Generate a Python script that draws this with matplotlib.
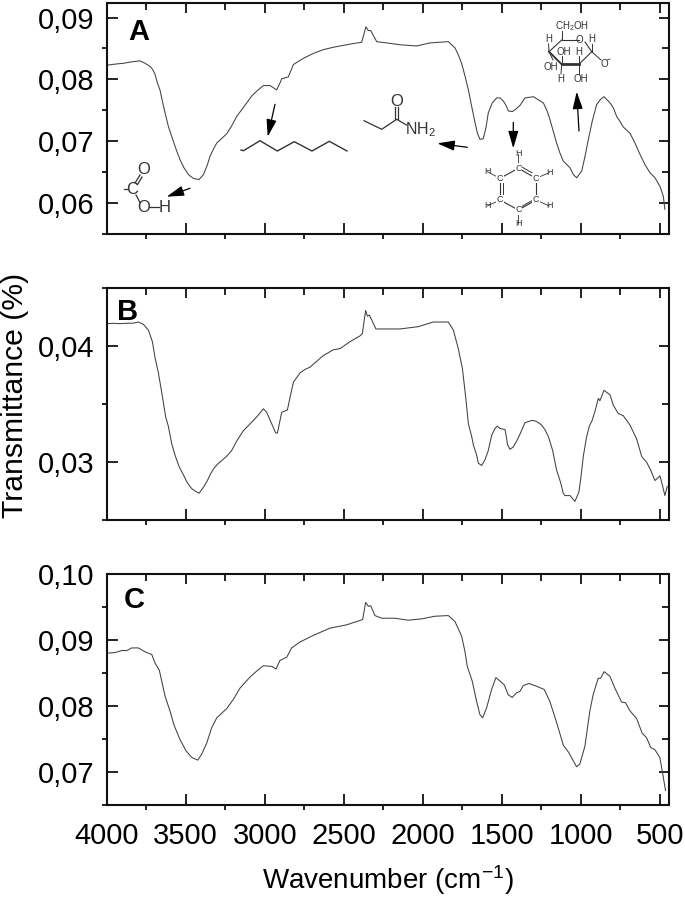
import matplotlib
matplotlib.use('Agg')
import matplotlib.pyplot as plt
from matplotlib.ticker import MultipleLocator, FuncFormatter, NullFormatter

plt.rcParams['font.family'] = ['Liberation Sans', 'DejaVu Sans']
plt.rcParams['mathtext.default'] = 'regular'

# values
wn_a = [4000,3968,3937,3894,3852,3821,3789,3757,3726,3709,3694,3679,3663,3648,3631,3610,3589,3561,3536,3511,
        3483,3452,3416,3388,3363,3346,3321,3304,3241,3209,3178,3146,3114,3083,3051,3009,2967,2925,2904,2893,
        2851,2819,2788,2756,2693,2630,2566,2503,2440,2387,2360,2345,2330,2292,2229,2145,2039,1955,1839,1797,
        1776,1755,1733,1712,1691,1670,1655,1639,1618,1601,1586,1561,1533,1512,1491,1474,1459,1434,1411,1386,
        1354,1301,1238,1217,1196,1175,1154,1133,1112,1069,1048,1027,995,974,953,928,901,875,854,816,
        795,774,753,732,690,658,627,595,563,532,500,479,469]
t_a = [.0823,.0824,.0825,.0826,.0828,.0829,.0830,.0826,.0821,.0816,.0808,.0794,.0783,.0765,.0746,.0724,.0708,.0687,.0670,.0657,
       .0646,.0640,.0638,.0646,.0662,.0676,.0689,.0697,.0712,.0725,.0740,.0751,.0762,.0773,.0781,.0790,.0790,.0783,.0794,.0801,
       .0804,.0824,.0829,.0834,.0842,.0848,.0852,.0855,.0858,.0860,.0885,.0879,.0879,.0861,.0859,.0856,.0854,.0859,.0861,.0851,
       .0840,.0826,.0805,.0783,.0756,.0730,.0713,.0703,.0704,.0722,.0746,.0762,.0770,.0770,.0765,.0758,.0749,.0748,.0752,.0758,
       .0770,.0772,.0762,.0751,.0735,.0716,.0697,.0681,.0668,.0657,.0646,.0641,.0652,.0676,.0703,.0733,.0759,.0768,.0772,.0762,
       .0754,.0740,.0732,.0723,.0713,.0697,.0679,.0662,.0649,.0641,.0627,.0611,.0590]

wn_b = [4000,3958,3916,3873,3831,3800,3768,3736,3711,3694,3673,3658,3641,3627,3610,3589,3568,3542,3515,3490,
        3462,3441,3416,3384,3363,3346,3325,3300,3241,3209,3178,3136,3093,3051,3009,2988,2956,2931,2920,2893,
        2857,2840,2819,2777,2746,2714,2672,2630,2566,2524,2461,2398,2383,2362,2351,2339,2324,2297,2229,2145,
        2029,1934,1839,1807,1776,1750,1729,1712,1691,1681,1660,1649,1628,1607,1586,1565,1544,1529,1512,1480,
        1464,1449,1428,1407,1386,1354,1333,1306,1280,1249,1228,1206,1179,1154,1128,1112,1101,1069,1038,1013,
        1000,985,964,947,929,911,890,880,854,816,795,764,732,690,648,616,606,585,559,532,
        500,483,469,454]
t_b = [.04196,.04199,.04196,.04199,.0420,.0421,.0419,.0414,.0404,.0390,.0377,.0365,.0351,.0339,.0331,.0316,.0306,.0296,.0289,.0282,
       .0277,.0275,.0273,.0279,.0284,.0289,.0294,.0298,.0305,.0310,.0318,.0327,.0333,.0339,.0346,.0343,.0333,.0325,.0325,.0343,
       .0345,.0356,.0369,.0377,.0380,.0382,.0387,.0392,.0397,.0398,.0404,.0409,.0411,.0431,.0426,.0427,.0423,.0415,.0415,.0415,
       .0417,.0421,.0421,.0414,.0398,.0381,.0356,.0333,.0322,.0315,.0306,.0299,.0297,.0302,.0310,.0323,.0329,.0331,.0329,.0328,
       .0315,.0311,.0313,.0318,.0324,.0334,.0335,.0336,.0335,.0332,.0328,.0322,.0310,.0293,.0282,.0273,.0271,.0271,.0266,.0274,
       .0287,.0305,.0322,.0331,.0336,.0344,.0355,.0353,.0362,.0358,.0349,.0342,.0340,.0332,.0320,.0305,.0303,.0300,.0293,.0284,
       .0288,.0279,.0271,.0279]

wn_c = [4000,3947,3905,3873,3842,3800,3757,3715,3694,3667,3652,3631,3599,3574,3536,3498,3462,3424,3399,3367,
        3336,3304,3241,3199,3157,3093,3041,3009,2956,2929,2904,2861,2830,2777,2693,2587,2482,2381,2362,2345,
        2330,2303,2261,2208,2177,2092,2008,1924,1839,1797,1755,1734,1719,1688,1660,1639,1622,1597,1565,1538,
        1513,1485,1460,1435,1407,1386,1365,1329,1281,1232,1197,1154,1112,1076,1028,1007,975,944,923,891,
        876,853,817,785,743,718,691,648,613,585,558,533,501,484,465]
t_c = [.0880,.0881,.0884,.0884,.0888,.0888,.0882,.0878,.0865,.0854,.0838,.0815,.0792,.0771,.0749,.0732,.0722,.0718,.0727,.0744,
       .0767,.0782,.0796,.0810,.0827,.0844,.0855,.0861,.0860,.0856,.0869,.0874,.0888,.0897,.0907,.0918,.0923,.0931,.0957,.0951,
       .0952,.0937,.0933,.0933,.0933,.0930,.0932,.0936,.0937,.0928,.0906,.0883,.0860,.0838,.0807,.0787,.0782,.0797,.0825,.0843,
       .0838,.0832,.0817,.0813,.0820,.0822,.0831,.0834,.0830,.0825,.0807,.0775,.0741,.0729,.0708,.0712,.0739,.0792,.0817,.0842,
       .0842,.0852,.0845,.0827,.0806,.0805,.0793,.0781,.0759,.0752,.0737,.0734,.0722,.0699,.0672]

W, H = 685, 899
LINE = '#404040'
SPINE = '#111111'

fig = plt.figure(figsize=(W / 100, H / 100), dpi=100)


def panel(top, bottom, wn, t, ylim, major, minor, letter, letter_xy, last=False):
    ax = fig.add_axes([106.7 / W, 1 - bottom / H, (669 - 106.7) / W, (bottom - top) / H])
    ax.plot(wn, t, color=LINE, lw=0.75)
    ax.set_xlim(4000, 443)
    ax.set_ylim(*ylim)
    ax.xaxis.set_major_locator(MultipleLocator(500))
    ax.xaxis.set_minor_locator(MultipleLocator(250))
    ax.yaxis.set_major_locator(MultipleLocator(major))
    ax.yaxis.set_minor_locator(MultipleLocator(minor))
    ax.yaxis.set_major_formatter(FuncFormatter(lambda v, p: ('%.2f' % v).replace('.', ',')))
    ax.tick_params(which='major', direction='in', length=8, width=1.3, color=SPINE, labelsize=21, pad=9)
    ax.tick_params(which='minor', direction='out', length=3.5, width=1.3, color=SPINE)
    ax.tick_params(axis='x', which='major', pad=12)
    if not last:
        ax.tick_params(axis='x', labelbottom=False)
    for s in ax.spines.values():
        s.set_linewidth(1.5)
        s.set_color(SPINE)

    # top and right ticks all point inward
    top_ax = ax.secondary_xaxis('top')
    top_ax.xaxis.set_major_locator(MultipleLocator(500))
    top_ax.xaxis.set_minor_locator(MultipleLocator(250))
    right_ax = ax.secondary_yaxis('right')
    right_ax.yaxis.set_major_locator(MultipleLocator(major))
    right_ax.yaxis.set_minor_locator(MultipleLocator(minor))
    for sec in [top_ax, right_ax]:
        sec.tick_params(which='major', direction='in', length=7, width=1.3, color=SPINE,
                        labeltop=False, labelright=False)
        sec.tick_params(which='minor', direction='in', length=5, width=1.3, color=SPINE)
        sec.xaxis.set_major_formatter(NullFormatter())
        sec.yaxis.set_major_formatter(NullFormatter())
    top_ax.spines['top'].set_visible(False)
    right_ax.spines['right'].set_visible(False)

    fig.text(letter_xy[0] / W, 1 - letter_xy[1] / H, letter, fontsize=21, fontweight='bold',
             ha='center', va='center', color='black')
    return ax


panel(2.7, 234, wn_a, t_a, (.055, .0924), .01, .005, 'A', (138.5, 32))
panel(288, 520, wn_b, t_b, (.02499, .04504), .01, .005, 'B', (128, 312))
panel(574, 805, wn_c, t_c, (.065, .10), .01, .005, 'C', (134, 600), last=True)

fig.text(15.5 / W, 1 - 395 / H, 'Transmittance (%)', rotation=90, fontsize=21.7, ha='center', va='center')
fig.text(388 / W, 1 - 880 / H, 'Wavenumber (cm$^{-1}$)', fontsize=20, ha='center', va='center')

# overlay in picture pixels for the drawn molecules
ov = fig.add_axes([0, 0, 1, 1])
ov.set_xlim(0, W)
ov.set_ylim(H, 0)
ov.axis('off')
ov.patch.set_alpha(0)
GR = '#333333'


def bonds(points, lw=0.9):
    ov.plot([p[0] for p in points], [p[1] for p in points], color=GR, lw=lw, solid_joinstyle='miter')


def label(x, y, s, size=11):
    ov.text(x, y, s, fontsize=size, color=GR, ha='center', va='center')


def arrow(tail, head):
    ov.annotate('', xy=head, xytext=tail,
                arrowprops=dict(arrowstyle='-|>,head_width=0.22,head_length=0.75', color='black', lw=0.9,
                                shrinkA=0, shrinkB=0, mutation_scale=14))


# carboxyl
label(131.7, 189, 'C', 12)
label(143.3, 170, 'O', 12)
label(143.3, 207, 'O', 12)
label(165, 207, 'H', 12)
bonds([(124, 188.5), (127.5, 188.5)])
bonds([(135, 183), (140, 175)])
bonds([(137.5, 184.5), (142, 177)])
bonds([(136, 195), (140, 202.5)])
bonds([(149.5, 207), (159.5, 207)])
arrow((190, 188.3), (166.7, 196.7))

# alkyl chain
bonds([(241, 150), (243.5, 150.7), (260, 140.7), (277.3, 151), (294.3, 141.7), (312, 151), (329.3, 141.3), (347, 151)], lw=1.0)
arrow((275, 104.3), (267.7, 136.7))

# amide
bonds([(364, 120.7), (381.7, 129.3), (396.7, 119.3), (406.5, 125)], lw=0.9)
bonds([(395.5, 119), (395.5, 107)])
bonds([(398, 119), (398, 107)])
label(396.7, 101, 'O', 12)
label(420, 130, 'NH$_2$', 11.5)
arrow((467.3, 147.3), (437.3, 143.3))

# benzene
ben = [(518.3, 168.3), (536, 178.3), (536, 200), (518.3, 210), (500, 200), (500, 178.3)]
ben_h = [(518.3, 154), (549.3, 172.7), (549.3, 206), (518.3, 224), (487.3, 206), (487.3, 171.7)]
for i in range(6):
    bonds([ben[i], ben[(i + 1) % 6]], lw=0.8)
    bonds([ben[i], ben_h[i]], lw=0.6)
    label(ben_h[i][0], ben_h[i][1], 'H', 6.5)
    ov.text(ben[i][0], ben[i][1], 'C', fontsize=6.5, color=GR, ha='center', va='center',
            bbox=dict(facecolor='white', edgecolor='none', pad=0.4))
bonds([(521, 166.5), (535, 174.5)], lw=0.7)
bonds([(503, 180), (503, 198)], lw=0.7)
bonds([(521, 207), (533, 200)], lw=0.7)
arrow((513.3, 122.3), (513.3, 148.3))

# sugar ring
bonds([(561.7, 40), (579, 40)], lw=0.8)
bonds([(585, 42), (591.7, 51.7), (579, 64.3), (561.7, 64.3), (549, 51.7), (561.7, 40)], lw=0.8)
bonds([(561.7, 64.3), (579, 64.3)], lw=2.0)
bonds([(549, 51.7), (561.7, 64.3)], lw=1.3)
bonds([(561.7, 40), (561.7, 31)], lw=0.7)
bonds([(549, 51.7), (548.5, 44)], lw=0.7)
bonds([(591.7, 51.7), (591.7, 44)], lw=0.7)
bonds([(561.7, 64.3), (561.7, 56)], lw=0.7)
bonds([(579, 64.3), (579, 56)], lw=0.7)
bonds([(561.7, 64.3), (561, 74)], lw=0.7)
bonds([(579, 64.3), (579, 74)], lw=0.7)
bonds([(549, 51.7), (553, 60)], lw=0.7)
bonds([(591.7, 51.7), (601, 60)], lw=0.7)
bonds([(607, 60), (610, 59)], lw=0.6)
label(572, 26.5, 'CH$_2$OH', 7)
label(579, 40, 'O', 7)
label(548.5, 39.5, 'H', 7)
label(591.7, 39.5, 'H', 7)
label(564, 51.7, 'OH', 7)
label(578.5, 51.7, 'H', 7)
label(551, 66.7, 'OH', 7)
label(560.7, 79.3, 'H', 7)
label(581, 79.3, 'OH', 7)
label(604.5, 64, 'O', 7)
arrow((579, 131), (576.7, 91.7))

fig.savefig('out.png', dpi=100)
